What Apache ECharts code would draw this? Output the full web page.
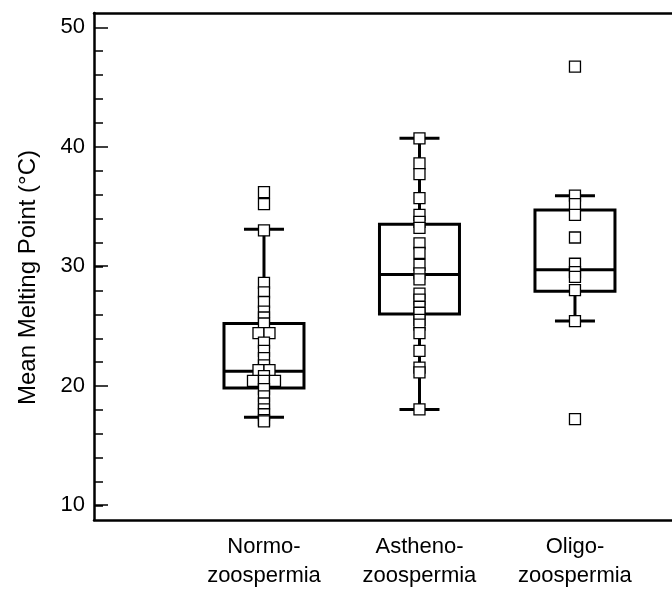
<!DOCTYPE html>
<html><head><meta charset="utf-8">
<script src="https://cdn.jsdelivr.net/npm/echarts@6/dist/echarts.min.js"></script>
<style>html,body{margin:0;padding:0;background:#fff}#c{width:672px;height:590px}</style>
</head><body><div id="c"></div>
<script>
// ---- data ----
const categories = ['Normo-\nzoospermia', 'Astheno-\nzoospermia', 'Oligo-\nzoospermia'];
const categoryPositions = [1, 2, 3];
const yMajorTicks = [10, 20, 30, 40, 50];
const yMinorStep = 2;
// [whisker low, Q1, median, Q3, whisker high]
const normoBox = [17.35, 19.8, 21.2, 25.2, 33.1];
const asthenoBox = [18.0, 26.0, 29.3, 33.5, 40.7];
const oligoBox = [25.4, 27.9, 29.7, 34.7, 35.9];
const normoPoints = [36.2, 35.2, 33.0, 28.6, 27.8, 27.0, 26.2, 25.7, 25.2, 24.4, 24.4, 23.6, 22.9, 22.3, 21.7,
  21.3, 21.3, 20.8, 20.4, 20.4, 20.4, 19.7, 19.1, 18.5, 18.0, 17.6, 17.1, 17.0];
const asthenoPoints = [40.7, 38.6, 37.7, 35.7, 34.3, 33.7, 33.2, 31.9, 31.1, 30.1, 29.4, 28.9, 27.7, 27.2,
  26.6, 26.1, 25.5, 25.1, 24.4, 22.9, 21.5, 21.1, 18.0];
const oligoPoints = [46.7, 35.9, 35.2, 34.3, 32.4, 30.2, 29.5, 29.1, 28.0, 25.4, 17.2];

// ---- build ----
const boxes = [normoBox, asthenoBox, oligoBox];
const pointSets = [normoPoints, asthenoPoints, oligoPoints];
const BOX_W = 80, CAP_W = 40, TIE_STEP = 11;

const boxData = boxes.map((b, i) => [categoryPositions[i]].concat(b));
const scatterData = [];
pointSets.forEach((pts, i) => {
  const counts = {};
  pts.forEach(v => { counts[v] = (counts[v] || 0) + 1; });
  const seen = {};
  pts.forEach(v => {
    const k = counts[v];
    const idx = seen[v] || 0; seen[v] = idx + 1;
    const off = (idx - (k - 1) / 2) * TIE_STEP;
    scatterData.push({ value: [categoryPositions[i], v], symbolOffset: [off, 0] });
  });
});

const chart = echarts.init(document.getElementById('c'), null, { renderer: 'canvas' });
const FONT = 'Liberation Sans, Arial, Helvetica, sans-serif';
// plot frame: value 10 at y=505.7, value 50 at y=27.3
const PX_PER_UNIT = (505.7 - 27.3) / 40;
const FRAME_TOP = 13, FRAME_BOTTOM_Y = 520.7, H = 590;
const yMin = 10 - (FRAME_BOTTOM_Y - 505.7) / PX_PER_UNIT;
const yMax = 50 + (27.3 - FRAME_TOP) / PX_PER_UNIT;
const xMin = -0.0932, xMax = 3.624;
chart.setOption({
  animation: false,
  backgroundColor: '#fff',
  grid: [
    { left: 94, right: 0, top: FRAME_TOP, bottom: H - FRAME_BOTTOM_Y, containLabel: false },
    { left: 94, right: 0, top: 27.3, bottom: H - 505.7, containLabel: false }
  ],
  xAxis: [
    {
      gridIndex: 0, type: 'value', min: xMin, max: xMax, position: 'bottom',
      splitLine: { show: false },
      axisLine: { show: true, onZero: false, lineStyle: { color: '#000', width: 2.5 } },
      axisTick: { show: false },
      axisLabel: {
        customValues: categoryPositions,
        formatter: v => categories[categoryPositions.indexOf(Math.round(v))] || '',
        color: '#000', fontFamily: FONT, fontSize: 22, lineHeight: 29, margin: 12
      }
    },
    {
      gridIndex: 0, type: 'value', min: xMin, max: xMax, position: 'top',
      splitLine: { show: false },
      axisLine: { show: true, onZero: false, lineStyle: { color: '#000', width: 2.5 } },
      axisTick: { show: false }, axisLabel: { show: false }
    },
    { gridIndex: 1, type: 'value', min: xMin, max: xMax, show: false, axisLine: { onZero: false } }
  ],
  yAxis: [
    {
      gridIndex: 0, type: 'value', min: yMin, max: yMax, position: 'left',
      name: 'Mean Melting Point (°C)', nameLocation: 'middle', nameGap: 54,
      nameTextStyle: { color: '#000', fontFamily: FONT, fontSize: 24, padding: [0, 22, 0, 0] },
      splitLine: { show: false },
      axisLine: { show: true, onZero: false, lineStyle: { color: '#000', width: 2.5 } },
      axisTick: { show: true, inside: true, length: 14, customValues: yMajorTicks, lineStyle: { color: '#000', width: 1.5 } },
      axisLabel: { customValues: yMajorTicks, color: '#000', fontFamily: FONT, fontSize: 22, margin: 9 }
    },
    {
      gridIndex: 1, type: 'value', min: 10, max: 50, interval: yMinorStep, position: 'left',
      splitLine: { show: false },
      axisLine: { show: false, onZero: false },
      axisTick: { show: true, inside: true, length: 9, lineStyle: { color: '#000', width: 1.5 } },
      axisLabel: { show: false }
    }
  ],
  series: [
    {
      type: 'custom', xAxisIndex: 0, yAxisIndex: 0, z: 2,
      data: boxData,
      renderItem: function (params, api) {
        const x = api.value(0);
        const c = v => api.coord([x, v]);
        const pMin = c(api.value(1)), pQ1 = c(api.value(2)), pMd = c(api.value(3)),
              pQ3 = c(api.value(4)), pMax = c(api.value(5));
        const cx = pMin[0], h = BOX_W / 2, ch = CAP_W / 2;
        const ls = { stroke: '#000', lineWidth: 3, fill: 'none' };
        return {
          type: 'group',
          children: [
            { type: 'line', shape: { x1: cx, y1: pQ1[1], x2: cx, y2: pMin[1] }, style: ls },
            { type: 'line', shape: { x1: cx, y1: pQ3[1], x2: cx, y2: pMax[1] }, style: ls },
            { type: 'line', shape: { x1: cx - ch, y1: pMin[1], x2: cx + ch, y2: pMin[1] }, style: ls },
            { type: 'line', shape: { x1: cx - ch, y1: pMax[1], x2: cx + ch, y2: pMax[1] }, style: ls },
            { type: 'rect', shape: { x: cx - h, y: pQ3[1], width: BOX_W, height: pQ1[1] - pQ3[1] }, style: ls },
            { type: 'line', shape: { x1: cx - h, y1: pMd[1], x2: cx + h, y2: pMd[1] }, style: ls }
          ]
        };
      }
    },
    {
      type: 'scatter', xAxisIndex: 0, yAxisIndex: 0, z: 3,
      symbol: 'rect', symbolSize: 11,
      itemStyle: { color: '#fff', borderColor: '#000', borderWidth: 1.3, opacity: 1 },
      data: scatterData
    }
  ]
});
</script>
</body></html>
